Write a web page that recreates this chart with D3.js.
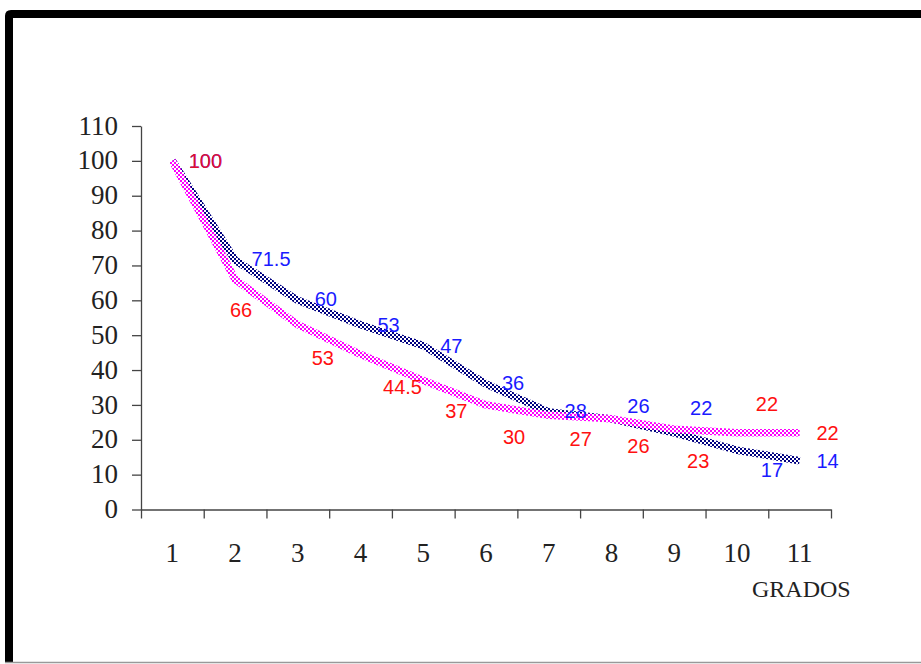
<!DOCTYPE html>
<html>
<head>
<meta charset="utf-8">
<script src="https://cdn.jsdelivr.net/npm/d3@7"></script>
<style>
  html, body { margin: 0; padding: 0; background: #fff; }
  svg { display: block; }
</style>
</head>
<body>
<svg id="chart" width="921" height="664"></svg>
<script>
// ---- data ----
const categories = ["1","2","3","4","5","6","7","8","9","10","11"];
const seriesBlue = [100, 71.5, 60, 53, 47, 36, 28, 26, 22, 17, 14];
const seriesMagenta = [100, 66, 53, 44.5, 37, 30, 27, 26, 23, 22, 22];
const blueLabels = ["100","71.5","60","53","47","36","28","26","22","17","14"];
const magentaLabels = ["100","66","53","44.5","37","30","27","26","23","22","22"];
const yTicks = [0,10,20,30,40,50,60,70,80,90,100,110];
const xTitle = "GRADOS";

// ---- label layout offsets (px) ----
const blueDx = [33,36,28,28,28,27,27,27,27,35,28];
const blueDy = [0,-1,-1,0,0,-1,-1,-13,-25,20,0];
const magDx  = [33,6,25,42,33,28,32,27,24,30,28];
const magDy  = [0,31,33,33,30,32,24,27,32,-29,0];

const svg = d3.select("#chart");

// frame
svg.append("rect").attr("x",0).attr("y",0).attr("width",921).attr("height",664).attr("fill","#fff");
svg.append("path")
  .attr("d","M9,663 L9,16 Q9,14 11,14 L921,14")
  .attr("fill","none").attr("stroke","#000").attr("stroke-width",8);
svg.append("line").attr("x1",5).attr("x2",921).attr("y1",662.5).attr("y2",662.5)
  .attr("stroke","#999").attr("stroke-width",1.5);

// patterns
const defs = svg.append("defs");
function checker(id, color){
  const p = defs.append("pattern").attr("id",id).attr("patternUnits","userSpaceOnUse")
    .attr("width",4).attr("height",4);
  p.append("rect").attr("width",4).attr("height",4).attr("fill","#fff");
  p.append("rect").attr("x",0).attr("y",0).attr("width",2).attr("height",2).attr("fill",color);
  p.append("rect").attr("x",2).attr("y",2).attr("width",2).attr("height",2).attr("fill",color);
}
checker("chkBlue","#000080");
checker("chkMag","#ff00ff");

// scales
const plotLeft = 141, plotRight = 831, plotTop = 126, plotBottom = 509.5;
const x = d3.scaleBand().domain(categories).range([plotLeft,plotRight]).padding(0);
const xEdge = d3.scaleLinear().domain([0, categories.length]).range([plotLeft,plotRight]);
const y = d3.scaleLinear().domain([0,110]).range([plotBottom, plotTop]);
const cx = c => x(c) + x.bandwidth()/2;

// y axis
const yAxis = svg.append("g").attr("transform",`translate(${plotLeft},0)`)
  .call(d3.axisLeft(y).tickValues(yTicks).tickSize(9).tickSizeOuter(0).tickPadding(14));
yAxis.select(".domain").attr("stroke","#444").attr("stroke-width",1.3);
yAxis.selectAll(".tick line").attr("stroke","#444").attr("stroke-width",1.3);
yAxis.selectAll(".tick text")
  .attr("font-family","'Liberation Serif', 'Times New Roman', serif")
  .attr("font-size",27).attr("fill","#222").attr("dy","0.3em");

// x axis (ticks at category boundaries)
const xAxis = svg.append("g").attr("transform",`translate(0,${plotBottom})`)
  .call(d3.axisBottom(xEdge).tickValues(d3.range(0, categories.length+1)).tickSize(9).tickSizeOuter(0).tickFormat(""));
xAxis.select(".domain").attr("stroke","#444").attr("stroke-width",1.3);
xAxis.selectAll(".tick line").attr("stroke","#444").attr("stroke-width",1.3);

// category labels
svg.append("g").selectAll("text").data(categories).join("text")
  .attr("x", d => cx(d)).attr("y", 562)
  .attr("text-anchor","middle")
  .attr("font-family","'Liberation Serif', 'Times New Roman', serif")
  .attr("font-size",27).attr("fill","#222")
  .text(d => d);

svg.append("text").attr("x",752).attr("y",597)
  .attr("font-family","'Liberation Serif', 'Times New Roman', serif")
  .attr("font-size",24).attr("fill","#222").text(xTitle);

// lines
const line = d3.line().x((d,i) => cx(categories[i])).y(d => y(d));
svg.append("path").datum(seriesBlue).attr("d",line)
  .attr("fill","none").attr("stroke","url(#chkBlue)").attr("stroke-width",7.5)
  .attr("stroke-linejoin","round");
svg.append("path").datum(seriesMagenta).attr("d",line)
  .attr("fill","none").attr("stroke","url(#chkMag)").attr("stroke-width",7.5)
  .attr("stroke-linejoin","round");

// labels
const lblFont = "'Liberation Sans', Arial, sans-serif";
svg.append("g").selectAll("text").data(seriesBlue).join("text")
  .attr("x",(d,i) => cx(categories[i]) + blueDx[i])
  .attr("y",(d,i) => y(d) + blueDy[i])
  .attr("text-anchor","middle").attr("dominant-baseline","central")
  .attr("font-family",lblFont).attr("font-size",20).attr("fill","#1a1aff")
  .text((d,i) => blueLabels[i]);
svg.append("g").selectAll("text").data(seriesMagenta).join("text")
  .attr("x",(d,i) => cx(categories[i]) + magDx[i])
  .attr("y",(d,i) => y(d) + magDy[i])
  .attr("text-anchor","middle").attr("dominant-baseline","central")
  .attr("font-family",lblFont).attr("font-size",20).attr("fill","#ff1010")
  .attr("fill-opacity",(d,i) => i === 0 ? 0.88 : 1)
  .text((d,i) => magentaLabels[i]);
</script>
</body>
</html>
